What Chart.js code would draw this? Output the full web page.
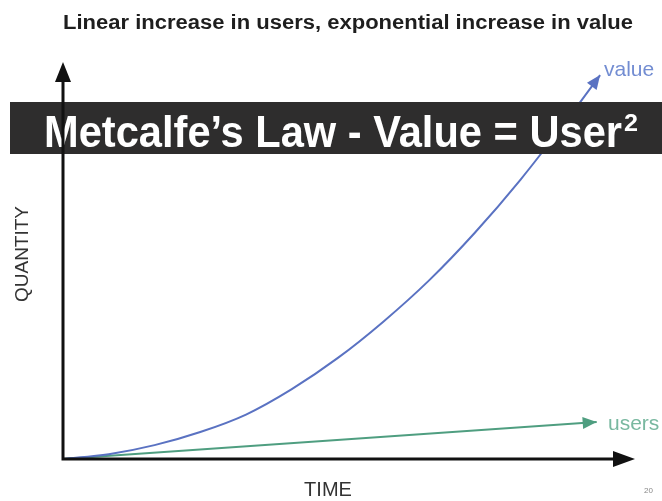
<!DOCTYPE html>
<html>
<head>
<meta charset="utf-8">
<script src="https://cdn.jsdelivr.net/npm/chart.js@4"></script>
<style>
  html, body { margin: 0; padding: 0; background: #fff; }
  #wrap { width: 662px; height: 501px; }
</style>
</head>
<body>
<div id="wrap"><canvas id="myChart" width="662" height="501"></canvas></div>
<script>
// values (time 0..100, quantity 0..100)
const timeSteps = [0, 8, 16, 24, 32, 40, 48, 56, 64, 72, 80, 88, 93.9];
const valueSeries = [0, 1.2, 3.5, 6.8, 11.2, 17.6, 25.4, 34.6, 45.0, 57.0, 70.4, 85.2, 96.7];
const userTime = [0, 93.3];
const userSeries = [0, 9.3];

const chartTitle = 'Linear increase in users, exponential increase in value';
const bannerText = 'Metcalfe\u2019s Law - Value = User';
const seriesLabels = ['value', 'users'];
const blue = '#5a72c2';
const green = '#4f9e80';

function toPoints(xs, ys) {
  return xs.map((x, i) => ({ x: x, y: ys[i] }));
}

function arrowHead(ctx, x1, y1, x2, y2, len, half, color) {
  const a = Math.atan2(y2 - y1, x2 - x1);
  ctx.save();
  ctx.fillStyle = color;
  ctx.beginPath();
  ctx.moveTo(x2, y2);
  ctx.lineTo(x2 - len * Math.cos(a) + half * Math.sin(a), y2 - len * Math.sin(a) - half * Math.cos(a));
  ctx.lineTo(x2 - len * Math.cos(a) - half * Math.sin(a), y2 - len * Math.sin(a) + half * Math.cos(a));
  ctx.closePath();
  ctx.fill();
  ctx.restore();
}

// draw text squeezed/stretched to a given width
function fitText(ctx, text, x, y, width) {
  const w = ctx.measureText(text).width;
  ctx.save();
  ctx.translate(x, y);
  ctx.scale(width / w, 1);
  ctx.fillText(text, 0, 0);
  ctx.restore();
}

const decorations = {
  id: 'decorations',
  afterDatasetsDraw(chart) {
    const ctx = chart.ctx;
    const xs = chart.scales.x, ys = chart.scales.y;
    const area = chart.chartArea;

    // arrow heads at the end of each series
    chart.data.datasets.forEach((ds) => {
      const d = ds.data;
      const p1 = d[d.length - 2], p2 = d[d.length - 1];
      arrowHead(ctx, xs.getPixelForValue(p1.x), ys.getPixelForValue(p1.y),
        xs.getPixelForValue(p2.x), ys.getPixelForValue(p2.y), 14, 6, ds.borderColor);
    });

    // banner
    ctx.save();
    ctx.fillStyle = '#2e2d2d';
    ctx.fillRect(10, 102, 652, 52);
    ctx.fillStyle = '#fff';
    ctx.font = 'bold 45px "Liberation Sans", Arial, sans-serif';
    ctx.textBaseline = 'alphabetic';
    ctx.textAlign = 'left';
    fitText(ctx, bannerText, 44, 147, 578);
    ctx.font = 'bold 24px "Liberation Sans", Arial, sans-serif';
    fitText(ctx, '2', 624, 131, 14);
    ctx.restore();

    // axes
    ctx.save();
    ctx.strokeStyle = '#111';
    ctx.lineWidth = 3;
    ctx.beginPath();
    ctx.moveTo(area.left, area.top + 15);
    ctx.lineTo(area.left, area.bottom);
    ctx.lineTo(area.right - 15, area.bottom);
    ctx.stroke();
    ctx.restore();
    arrowHead(ctx, area.left, area.bottom, area.left, area.top, 20, 8, '#111');
    arrowHead(ctx, area.left, area.bottom, area.right, area.bottom, 22, 8, '#111');

    // texts
    ctx.save();
    ctx.fillStyle = '#1e1e1e';
    ctx.font = 'bold 20px "Liberation Sans", Arial, sans-serif';
    ctx.textAlign = 'left';
    ctx.textBaseline = 'alphabetic';
    fitText(ctx, chartTitle, 63, 29, 570);

    ctx.textAlign = 'center';
    ctx.textBaseline = 'middle';
    ctx.font = '20px "Liberation Sans", Arial, sans-serif';
    ctx.fillStyle = '#333';
    ctx.fillText('TIME', 328, 490);

    ctx.save();
    ctx.translate(23, 254);
    ctx.rotate(-Math.PI / 2);
    ctx.font = '19px "Liberation Sans", Arial, sans-serif';
    ctx.fillText('QUANTITY', 0, 0);
    ctx.restore();

    ctx.textAlign = 'left';
    ctx.font = '21px "Liberation Sans", Arial, sans-serif';
    ctx.fillStyle = '#738dd2';
    ctx.fillText(seriesLabels[0], 604, 70);
    ctx.fillStyle = '#79b8a0';
    ctx.fillText(seriesLabels[1], 608, 424);

    ctx.font = '8px "Liberation Sans", Arial, sans-serif';
    ctx.fillStyle = '#888';
    ctx.fillText('20', 644, 491);
    ctx.restore();
  }
};

new Chart(document.getElementById('myChart').getContext('2d'), {
  type: 'scatter',
  data: {
    datasets: [{
      label: seriesLabels[0],
      data: toPoints(timeSteps, valueSeries),
      showLine: true,
      borderColor: blue,
      borderWidth: 2,
      pointRadius: 0,
      cubicInterpolationMode: 'monotone'
    }, {
      label: seriesLabels[1],
      data: toPoints(userTime, userSeries),
      showLine: true,
      borderColor: green,
      borderWidth: 2,
      pointRadius: 0
    }]
  },
  options: {
    responsive: false,
    animation: false,
    layout: { padding: { left: 63, right: 27, top: 62, bottom: 42 } },
    scales: {
      x: { type: 'linear', min: 0, max: 100, display: false },
      y: { type: 'linear', min: 0, max: 100, display: false }
    },
    plugins: {
      legend: { display: false },
      tooltip: { enabled: false }
    }
  },
  plugins: [decorations]
});
</script>
</body>
</html>
